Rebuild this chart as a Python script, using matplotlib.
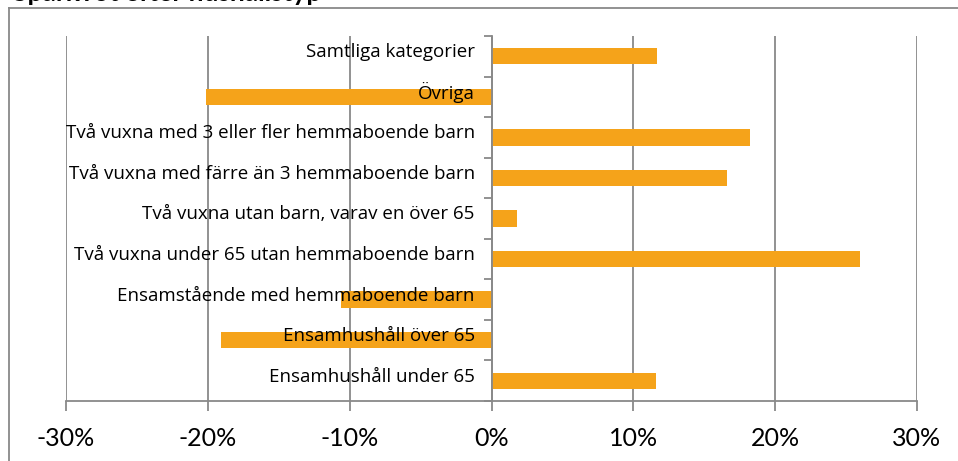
import matplotlib.pyplot as plt
from matplotlib.lines import Line2D

categories = ['Ensamhushåll under 65', 'Ensamhushåll över 65',
              'Ensamstående med hemmaboende barn',
              'Två vuxna under 65 utan hemmaboende barn',
              'Två vuxna utan barn, varav en över 65',
              'Två vuxna med färre än 3 hemmaboende barn',
              'Två vuxna med 3 eller fler hemmaboende barn',
              'Övriga', 'Samtliga kategorier']
values = [11.6, -19.1, -10.6, 26.0, 1.8, 16.6, 18.2, -20.1, 11.7]
xticks = [-30, -20, -10, 0, 10, 20, 30]
xlabels = ['-30%', '-20%', '-10%', '0%', '10%', '20%', '30%']
title = 'Sparkvot efter hushållstyp'

plt.rcParams['font.family'] = ['Lato', 'DejaVu Sans']
grey = '#898989'

fig = plt.figure(figsize=(9.58, 4.61), dpi=100)
ax = fig.add_axes([66/958, 1 - 401/461, 851/958, 365/461])

ypos = list(range(len(categories)))
ax.barh(ypos, values, height=0.4, color='#F5A31A', zorder=2)
# gridlines under the bars, tick labels above them
for x in xticks:
    ax.axvline(x, color=grey, linewidth=1.3, zorder=0.5)
ax.set_axisbelow(False)

ax.set_xlim(-30, 30)
ax.set_ylim(-0.5, len(categories) - 0.5)
ax.set_xticks(xticks, xlabels)
ax.set_yticks([y + 0.15 for y in ypos], categories)
ax.set_yticks([y - 0.5 for y in range(len(categories) + 1)], minor=True)
ax.tick_params(axis='y', which='major', length=0, pad=12, labelsize=13.5,
               labelfontfamily='Open Sans')
ax.tick_params(axis='y', which='minor', length=6, color=grey, width=1.3)
ax.tick_params(axis='x', length=7, color=grey, width=1.3, pad=12, labelsize=18)

for s in ['top', 'right']:
    ax.spines[s].set_visible(False)
ax.spines['left'].set_position(('data', 0))
ax.spines['left'].set_color(grey)
ax.spines['left'].set_linewidth(1.3)
ax.spines['bottom'].set_color(grey)
ax.spines['bottom'].set_linewidth(1.3)

# outer chart border (only top and left visible)
fig.add_artist(Line2D([9/958, 1], [1 - 8/461, 1 - 8/461], color=grey, lw=1.3))
fig.add_artist(Line2D([9/958, 9/958], [0, 1 - 8/461], color=grey, lw=1.3))

fig.text(13/958, 1 - 1/461, title, fontsize=19, fontweight='bold',
         va='baseline', ha='left')

fig.savefig('out.png', dpi=100)
